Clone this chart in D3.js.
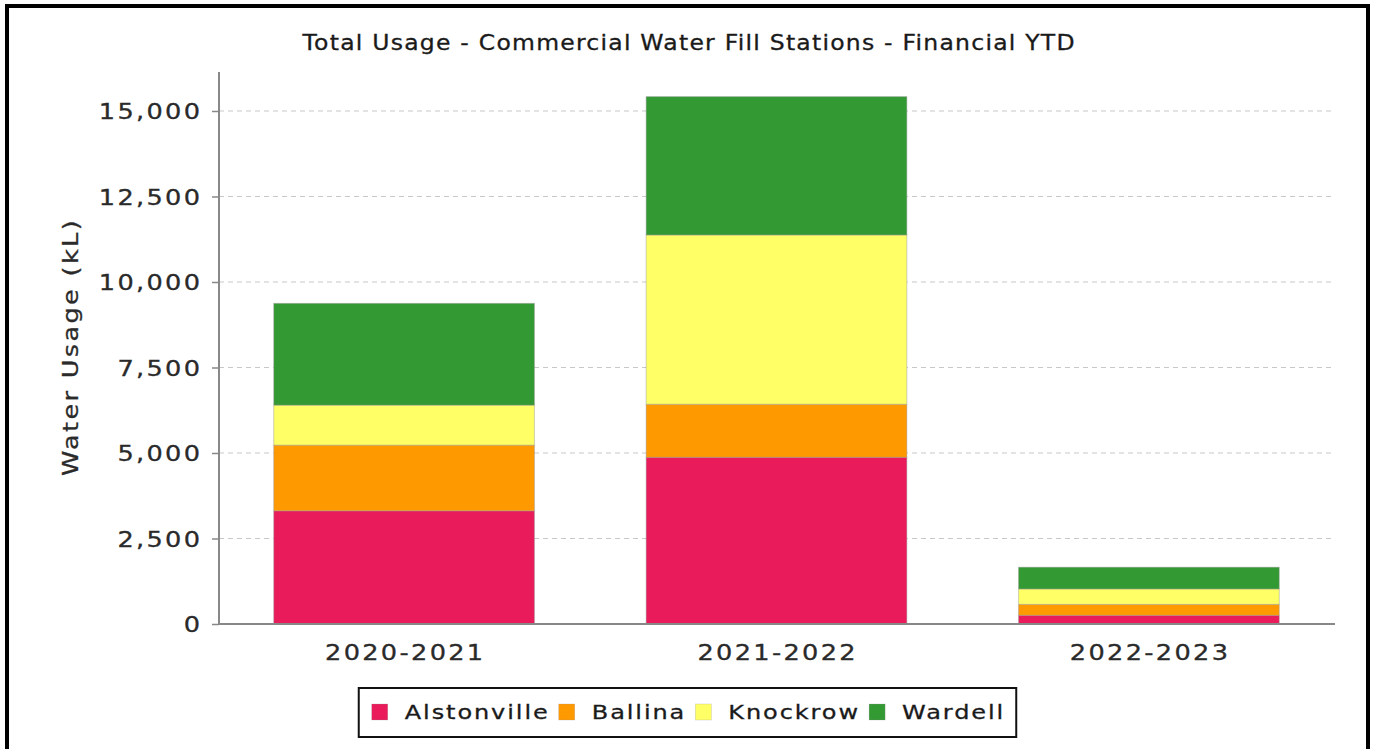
<!DOCTYPE html>
<html>
<head>
<meta charset="utf-8">
<script src="https://cdn.jsdelivr.net/npm/d3@7"></script>
<style>
  html, body { margin: 0; padding: 0; background: #fff; }
  svg { display: block; }
  text { font-family: "DejaVu Sans", Verdana, sans-serif; }
</style>
</head>
<body>
<svg id="chart" width="1375" height="749"></svg>
<script>
// ---- data ----
const title = "Total Usage - Commercial Water Fill Stations - Financial YTD";
const yAxisLabel = "Water Usage (kL)";
const years = ["2020-2021", "2021-2022", "2022-2023"];
const seriesNames = ["Alstonville", "Ballina", "Knockrow", "Wardell"];
const alstonville = [3310, 4875, 255];
const ballina = [1920, 1550, 320];
const knockrow = [1170, 4950, 450];
const wardell = [2975, 4045, 635];
const yTicks = [0, 2500, 5000, 7500, 10000, 12500, 15000];
const yMax = 16140;
const colors = ["#e91b5b", "#ff9900", "#ffff66", "#339933"];

// ---- build table ----
const seriesValues = [alstonville, ballina, knockrow, wardell];
const table = years.map((y, i) => {
  const row = { year: y };
  seriesNames.forEach((s, j) => row[s] = seriesValues[j][i]);
  return row;
});

const svg = d3.select("#chart");
const W = 1375, H = 749;
const plot = { left: 219, right: 1334, top: 72, bottom: 624 };

// text style helper
function styleText(sel, size, sx, ls, fill) {
  sel.style("font-size", size + "px")
    .style("letter-spacing", ls + "px")
    .style("font-family", "'DejaVu Sans', Verdana, sans-serif")
    .attr("fill", fill)
    .attr("stroke", fill).attr("stroke-width", 0.3);
}

// outer frame
svg.append("rect")
  .attr("x", 7).attr("y", 6).attr("width", 1361).attr("height", 780)
  .attr("fill", "#fff").attr("stroke", "#000").attr("stroke-width", 4);

const x = d3.scaleBand().domain(years)
  .range([plot.left, plot.right])
  .paddingInner(0.3).paddingOuter(0.147);
const y = d3.scaleLinear().domain([0, yMax]).range([plot.bottom, plot.top]);

// gridlines
svg.append("g").selectAll("line")
  .data(yTicks.filter(t => t > 0))
  .join("line")
  .attr("x1", plot.left).attr("x2", plot.right)
  .attr("y1", d => y(d)).attr("y2", d => y(d))
  .attr("stroke", "#c8c8c8").attr("stroke-width", 1)
  .attr("stroke-dasharray", "5,4");

// stacked bars
const stack = d3.stack().keys(seriesNames)(table);
svg.append("g").selectAll("g")
  .data(stack)
  .join("g")
  .attr("fill", (d, i) => colors[i])
  .selectAll("rect")
  .data(d => d)
  .join("rect")
  .attr("x", d => x(d.data.year))
  .attr("width", x.bandwidth())
  .attr("y", d => y(d[1]))
  .attr("height", d => y(d[0]) - y(d[1]))
  .attr("stroke", "rgba(150,150,150,0.45)")
  .attr("stroke-width", 1);

const axSize = 21, axSx = 1.22, axLs = 1.9;

// y axis
const yAxis = d3.axisLeft(y).tickValues(yTicks)
  .tickFormat(d3.format(",")).tickSize(7).tickPadding(12);
const gy = svg.append("g").attr("transform", `translate(${plot.left},0)`).call(yAxis);
gy.select(".domain").attr("stroke", "#888").attr("stroke-width", 2)
  .attr("d", `M0,${plot.top}V${plot.bottom}`);
gy.selectAll(".tick line").attr("stroke", "#888").attr("stroke-width", 1.5);
gy.selectAll(".tick text")
  .call(styleText, axSize, axSx, axLs, "#2a2a2a")
  .attr("x", (-19 + axLs * axSx) / axSx)
  .attr("transform", `scale(${axSx},1)`)
  .attr("dy", "0.36em");

// x axis
const xAxis = d3.axisBottom(x).tickSize(0).tickPadding(21);
const gx = svg.append("g").attr("transform", `translate(0,${plot.bottom})`).call(xAxis);
gx.select(".domain").attr("stroke", "#888").attr("stroke-width", 2)
  .attr("d", `M${plot.left},0H${plot.right + 1}`);
gx.selectAll(".tick text")
  .call(styleText, axSize, axSx, axLs, "#2a2a2a")
  .attr("x", (axLs / 2))
  .attr("transform", `scale(${axSx},1)`)
  .attr("dy", "0.71em");

// title
const tSx = 1.12, tLs = 1.1;
svg.append("text")
  .attr("transform", `translate(${W / 2 + 1 + tLs * tSx / 2},50) scale(${tSx},1)`)
  .attr("text-anchor", "middle")
  .call(styleText, 21, tSx, tLs, "#1a1a1a")
  .text(title);

// y label
svg.append("text")
  .attr("transform", `translate(78,${(plot.top + plot.bottom) / 2 - 1}) rotate(-90) scale(${axSx},1)`)
  .attr("text-anchor", "middle")
  .call(styleText, axSize, axSx, axLs, "#2a2a2a")
  .text(yAxisLabel);

// legend
const leg = svg.append("g");
const legSize = 20, legSx = 1.2, legLs = 1.6;
const sw = 16, padL = 13, gapSw = 17, gapItem = 11;
const items = [];
seriesNames.forEach((s, i) => {
  const g = leg.append("g");
  g.append("rect").attr("width", sw).attr("height", sw).attr("y", -sw / 2)
    .attr("fill", colors[i]).attr("stroke", "rgba(150,150,150,0.5)").attr("stroke-width", 0.5);
  const t = g.append("text")
    .attr("transform", `translate(${sw + gapSw},0) scale(${legSx},1)`)
    .attr("dy", "0.36em")
    .call(styleText, legSize, legSx, legLs, "#1a1a1a")
    .text(s);
  items.push({ g, w: sw + gapSw + (t.node().getComputedTextLength() - legLs) * legSx });
});
let total = padL * 2 + d3.sum(items, d => d.w) + gapItem * (items.length - 1);
const legX0 = W / 2 - total / 2, legYc = 712;
leg.insert("rect", ":first-child")
  .attr("x", legX0).attr("y", 688).attr("width", total).attr("height", 49)
  .attr("fill", "#fff").attr("stroke", "#111").attr("stroke-width", 2);
let cx = legX0 + padL;
items.forEach(it => {
  it.g.attr("transform", `translate(${cx},${legYc})`);
  cx += it.w + gapItem;
});
</script>
</body>
</html>
